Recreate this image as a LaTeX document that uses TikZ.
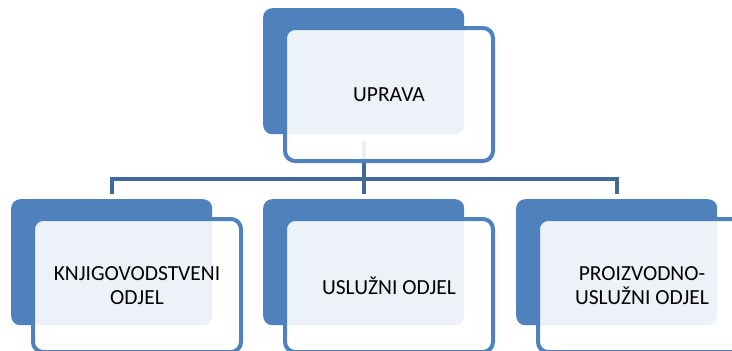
\documentclass[tikz,border=0pt]{standalone}
\usepackage{fontspec}
\setmainfont{Carlito}
\definecolor{backblue}{HTML}{4F81BD}
\definecolor{lineblue}{HTML}{41699A}
\begin{document}
\begin{tikzpicture}[x=1pt,y=-1pt,
  backbox/.style={fill=backblue, rounded corners=9pt, inner sep=0pt,
    minimum width=201pt, minimum height=126pt, anchor=north west},
  frontbox/.style={draw=backblue, line width=4pt, fill=white, fill opacity=0.9,
    draw opacity=1, rounded corners=10pt, inner sep=0pt,
    minimum width=208pt, minimum height=133pt, anchor=north west},
  boxlabel/.style={font=\fontsize{21.5}{24}\selectfont, align=center, text=black},
  conn/.style={draw=lineblue, line width=4pt}]
\useasboundingbox (0,0) rectangle (732,351);
\clip (0,0) rectangle (732,351);
% back boxes
\node[backbox] (b1) at (263,8) {};
\node[backbox] (b2) at (11,199) {};
\node[backbox] (b3) at (263,199) {};
\node[backbox] (b4) at (516,199) {};
\coordinate (bus) at (0,178.5);
% connectors
\draw[conn] ([yshift=-7pt]b1.south) -- ([yshift=5pt]b3.north);
\draw[conn] ([yshift=5pt]b2.north) -- (b2.north |- bus) -- (b4.north |- bus) -- ([yshift=5pt]b4.north);
% front boxes
\node[frontbox] (f1) at (283,26) {};
\node[frontbox] (f2) at (31,217) {};
\node[frontbox] (f3) at (283,217) {};
\node[frontbox] (f4) at (536,217) {};
% labels
\node[boxlabel] (t1) at (f1.center) {UPRAVA};
\node[boxlabel] (t2) at (f2.center) {KNJIGOVODSTVENI\\ODJEL};
\node[boxlabel] (t3) at (f3.center) {USLUŽNI ODJEL};
\node[boxlabel] (t4) at (f4.center) {PROIZVODNO-\\USLUŽNI ODJEL};
\end{tikzpicture}
\end{document}
